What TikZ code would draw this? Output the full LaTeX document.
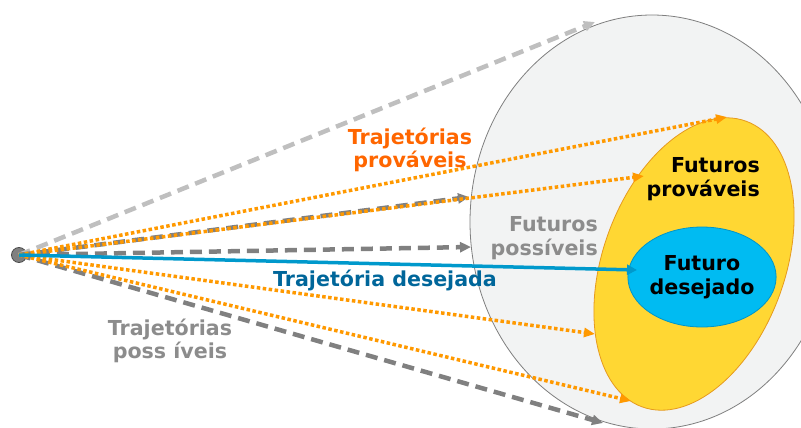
\documentclass[tikz,border=0pt]{standalone}
\usepackage{fontspec}
\setmainfont{DejaVu Sans}
\usetikzlibrary{arrows.meta,shapes.geometric}
\definecolor{orangeline}{HTML}{FF9900}
\definecolor{lightgreyline}{HTML}{BFBFBF}
\definecolor{darkgreyline}{HTML}{808080}
\definecolor{blueline}{HTML}{0099CC}
\definecolor{orangetext}{HTML}{FF6600}
\definecolor{bluetext}{HTML}{00669A}
\definecolor{greytext}{HTML}{8C8C8C}
\definecolor{outerfill}{HTML}{F2F3F3}
\definecolor{outerdraw}{HTML}{7F7F7F}
\definecolor{yellowfill}{HTML}{FFD733}
\definecolor{yellowdraw}{HTML}{E69A1E}
\definecolor{bluefill}{HTML}{00BBF2}
\definecolor{bluedraw}{HTML}{0095C8}
\begin{document}
\begin{tikzpicture}[x=1pt,y=-1pt,
  lbl/.style={font=\bfseries\fontsize{20.6}{23.5}\selectfont, inner sep=0pt, align=center},
  probable/.style={draw=orangeline, line width=3.5pt, dash pattern=on 3.5pt off 2.5pt,
     -{Triangle[length=11pt,width=9pt]}},
  possible/.style={line width=4.5pt, dash pattern=on 12pt off 7pt,
     -{Triangle[length=11pt,width=10pt]}},
  desired/.style={draw=blueline, line width=3.5pt, -{Triangle[length=10pt,width=10pt]}}
]
\useasboundingbox (0,0) rectangle (801,428);
\clip (0,0) rectangle (801,428);
% regions
\filldraw[fill=outerfill, draw=outerdraw, line width=0.8pt] (652,222) ellipse [x radius=182, y radius=207];
\filldraw[fill=yellowfill, draw=yellowdraw, line width=0.8pt, shift={(694,264)}, rotate=70] (0,0) ellipse [x radius=152, y radius=91];
\node[ellipse, fill=bluefill, draw=bluedraw, line width=0.8pt, minimum width=132, minimum height=100, lbl] (fdes) at (702,277) {Futuro\\desejado};
% source
\node[circle, fill=darkgreyline, draw=black!70, line width=0.8pt, minimum size=15, inner sep=0pt] (src) at (19,255) {};
% end points
\coordinate (lg1) at (595,22);
\coordinate (dg1) at (469,197);
\coordinate (dg2) at (471,247);
\coordinate (dg3) at (603,423);
\coordinate (or1) at (727,117);
\coordinate (or2) at (644,176);
\coordinate (or3) at (595,334);
\coordinate (or4) at (631,401);
\coordinate (bl1) at (637,270);
% possible trajectories
\draw[possible, draw=lightgreyline] (src.center) -- (lg1);
\draw[possible, draw=darkgreyline] (src.center) -- (dg1);
\draw[possible, draw=darkgreyline] (src.center) -- (dg2);
\draw[possible, draw=darkgreyline] (src.center) -- (dg3);
% probable trajectories
\draw[probable] (src.center) -- (or1);
\draw[probable] (src.center) -- (or2);
\draw[probable] (src.center) -- (or3);
\draw[probable] (src.center) -- (or4);
% desired trajectory
\draw[desired] (src.center) -- (bl1);
% labels
\node[lbl, text=orangetext] (tprov) at (410,150) {Trajetórias\\prováveis};
\node[lbl, text=greytext] (tposs) at (170,341) {Trajetórias\\poss íveis};
\node[lbl, text=bluetext] (tdes) at (385,280) {Trajetória desejada};
\node[lbl, text=greytext, align=right, anchor=east] (fposs) at (598,238) {Futuros\\possíveis};
\node[lbl, align=right, anchor=east] (fprov) at (760,179) {Futuros\\prováveis};
\end{tikzpicture}
\end{document}
